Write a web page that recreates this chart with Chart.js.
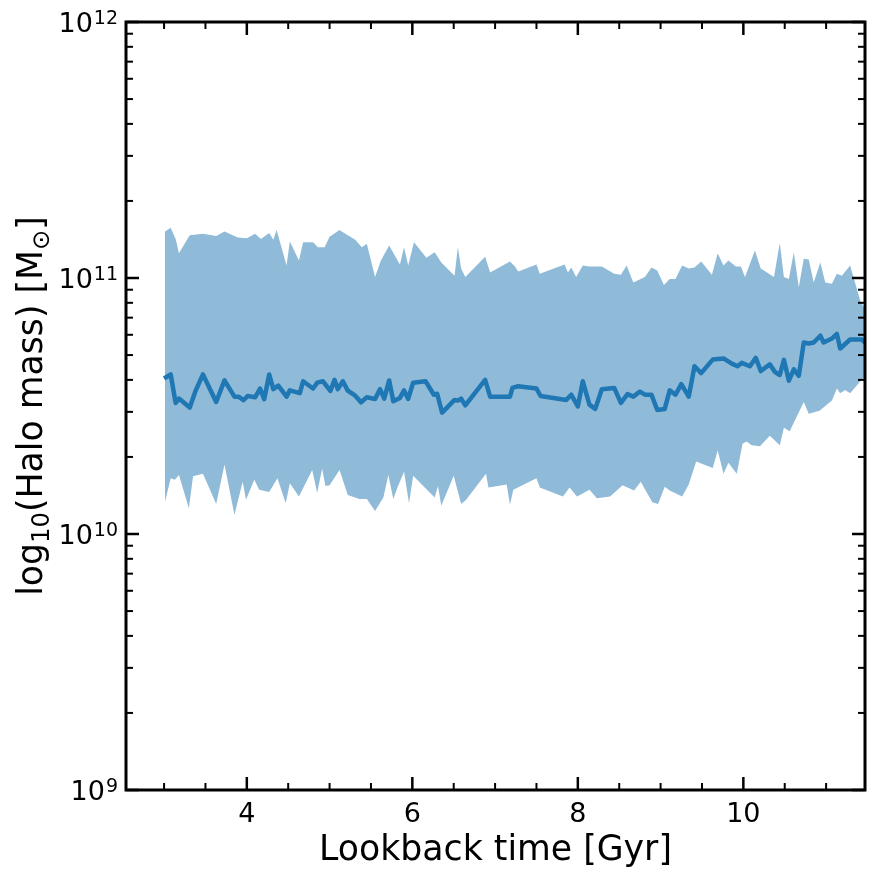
<!DOCTYPE html>
<html><head><meta charset="utf-8">
<script src="https://cdn.jsdelivr.net/npm/chart.js@4.4.1/dist/chart.umd.min.js"></script>
<style>html,body{margin:0;padding:0;background:#fff;}canvas{display:block;}</style>
</head><body>
<canvas id="c" width="876" height="879"></canvas>
<script>
// Median halo mass (units of 1e10 Msun) vs lookback time [Gyr]
const medianTime = [3.00,3.08,3.14,3.18,3.31,3.38,3.47,3.63,3.73,3.85,3.90,3.96,4.01,4.10,4.16,4.21,4.27,4.32,4.38,4.48,4.52,4.64,4.68,4.80,4.85,4.92,5.01,5.06,5.10,5.16,5.22,5.31,5.38,5.45,5.55,5.61,5.66,5.72,5.77,5.85,5.90,5.95,6.01,6.16,6.26,6.30,6.36,6.51,6.55,6.59,6.64,6.88,6.94,7.18,7.21,7.28,7.50,7.55,7.86,7.92,8.00,8.06,8.14,8.21,8.29,8.44,8.52,8.60,8.67,8.75,8.81,8.89,8.96,9.05,9.11,9.18,9.25,9.34,9.41,9.49,9.63,9.76,9.86,9.93,9.98,10.08,10.15,10.21,10.32,10.38,10.44,10.49,10.55,10.61,10.67,10.73,10.79,10.85,10.93,10.97,11.07,11.13,11.17,11.29,11.43,11.47];
const medianMass = [4.05,4.20,3.25,3.38,3.12,3.62,4.20,3.28,3.98,3.44,3.44,3.33,3.46,3.42,3.70,3.36,4.20,3.68,3.80,3.44,3.64,3.55,3.95,3.70,3.90,3.95,3.62,4.00,3.68,3.95,3.63,3.47,3.27,3.42,3.37,3.68,3.38,3.98,3.30,3.40,3.64,3.37,3.90,3.95,3.50,3.53,2.98,3.34,3.32,3.38,3.18,4.00,3.44,3.44,3.72,3.78,3.70,3.46,3.34,3.50,3.15,3.95,3.20,3.08,3.68,3.72,3.25,3.52,3.44,3.60,3.50,3.50,3.05,3.08,3.64,3.50,3.85,3.44,4.52,4.25,4.80,4.85,4.63,4.52,4.66,4.52,4.88,4.33,4.60,4.30,4.18,4.79,3.97,4.40,4.15,5.60,5.55,5.60,5.95,5.60,5.80,6.05,5.30,5.75,5.75,5.60];

// Upper envelope (units of 1e10 Msun)
const upperTime = [3.01,3.08,3.14,3.18,3.31,3.47,3.63,3.73,3.89,4.00,4.10,4.17,4.27,4.32,4.36,4.48,4.52,4.63,4.68,4.80,4.86,4.94,5.00,5.12,5.19,5.31,5.39,5.45,5.55,5.62,5.72,5.85,5.90,5.95,6.02,6.17,6.27,6.35,6.51,6.55,6.59,6.64,6.88,6.94,7.18,7.24,7.28,7.50,7.54,7.84,7.88,7.92,7.98,8.06,8.14,8.29,8.44,8.52,8.59,8.67,8.81,8.89,8.96,9.04,9.11,9.18,9.26,9.34,9.41,9.49,9.62,9.69,9.76,9.82,9.91,9.97,10.02,10.14,10.21,10.37,10.44,10.49,10.55,10.61,10.67,10.73,10.79,10.85,10.93,10.99,11.07,11.13,11.19,11.29,11.41,11.47];
const upperMass = [15.2,15.7,14.2,12.5,14.7,14.9,14.6,15.2,14.4,14.3,14.9,14.2,15.0,14.1,15.4,11.2,13.9,11.7,13.8,13.8,13.2,13.2,14.5,15.4,14.9,14.1,13.2,13.6,10.1,11.7,13.4,11.3,13.2,11.2,13.8,12.0,12.6,11.5,10.2,13.2,10.9,10.1,12.1,10.5,11.6,11.1,10.6,11.3,10.4,11.3,10.5,11.0,10.1,11.2,11.1,11.1,10.4,10.3,11.2,9.6,10.1,11.0,10.7,9.4,9.9,9.9,11.2,10.9,11.0,11.6,10.3,12.5,11.2,11.7,11.1,11.1,10.1,12.8,10.9,10.1,13.7,10.1,9.9,12.6,9.2,11.9,11.8,9.6,11.5,9.6,9.5,10.4,10.2,11.2,8.2,7.5];

// Lower envelope (units of 1e10 Msun)
const lowerTime = [3.01,3.08,3.13,3.18,3.30,3.35,3.47,3.63,3.73,3.85,3.95,3.99,4.09,4.15,4.27,4.37,4.47,4.52,4.63,4.79,4.85,4.91,4.95,5.00,5.12,5.22,5.36,5.45,5.55,5.65,5.71,5.77,5.82,5.90,5.96,6.01,6.27,6.31,6.35,6.50,6.59,6.65,6.89,6.92,7.14,7.18,7.22,7.50,7.54,7.82,7.90,7.99,8.14,8.23,8.39,8.54,8.68,8.76,8.90,8.97,9.05,9.11,9.26,9.34,9.43,9.63,9.69,9.76,9.82,9.92,9.99,10.04,10.10,10.20,10.32,10.44,10.49,10.56,10.73,10.79,10.92,11.07,11.13,11.17,11.23,11.29,11.43,11.47];
const lowerMass = [1.33,1.65,1.63,1.70,1.26,1.68,1.72,1.31,1.87,1.19,1.60,1.36,1.63,1.49,1.46,1.65,1.32,1.58,1.40,1.78,1.45,1.80,1.54,1.55,1.78,1.42,1.37,1.37,1.23,1.39,1.70,1.37,1.52,1.75,1.32,1.69,1.39,1.54,1.29,1.69,1.31,1.36,1.72,1.52,1.56,1.30,1.49,1.65,1.52,1.40,1.52,1.40,1.49,1.38,1.40,1.55,1.48,1.60,1.33,1.31,1.53,1.48,1.40,1.56,1.92,1.81,2.12,1.72,1.90,1.72,2.25,2.30,2.22,2.20,2.42,2.22,2.60,2.52,3.28,2.95,3.03,3.32,3.70,3.55,3.65,3.55,4.00,4.12];

const xTicks = [4, 6, 8, 10];
const xTickLabels = ['4', '6', '8', '10'];
const yTicks = [1e9, 1e10, 1e11, 1e12];
const yTickBase = '10';
const yTickExp = ['9', '10', '11', '12'];
const xTitle = 'Lookback time [Gyr]';
// y title pieces: [text, isSubscript]
const yTitleParts = [['log', false], ['10', true], ['(Halo mass) [M', false], ['\u2299', true], [']', false]];

const UNIT = 1e10;
const toPts = (t, m) => t.map((v, i) => ({x: v, y: m[i] * UNIT}));

const FONT = 'DejaVu Sans';
const TICK_SIZE = 27, EXP_SIZE = 19, TITLE_SIZE = 34.7;

const decor = {
  id: 'decor',
  afterDatasetsDraw(chart) {
    const {ctx, chartArea: a, scales: {x, y}} = chart;
    ctx.save();
    ctx.strokeStyle = '#000';
    ctx.lineCap = 'butt';
    const seg = (x1, y1, x2, y2, w) => { ctx.lineWidth = w; ctx.beginPath(); ctx.moveTo(x1, y1); ctx.lineTo(x2, y2); ctx.stroke(); };
    const MAJ = 13, MIN = 7, WMAJ = 2.5, WMIN = 2;
    for (let v = Math.ceil(x.min * 2) / 2; v <= x.max + 1e-9; v += 0.5) {
      if (xTicks.some(t => Math.abs(t - v) < 1e-6)) continue;
      const p = x.getPixelForValue(v);
      seg(p, a.bottom, p, a.bottom - MIN, WMIN);
      seg(p, a.top, p, a.top + MIN, WMIN);
    }
    xTicks.forEach(v => {
      const p = x.getPixelForValue(v);
      seg(p, a.bottom, p, a.bottom - MAJ, WMAJ);
      seg(p, a.top, p, a.top + MAJ, WMAJ);
    });
    for (let e = 9; e < 12; e++) {
      for (let k = 2; k <= 9; k++) {
        const p = y.getPixelForValue(k * Math.pow(10, e));
        seg(a.left, p, a.left + MIN, p, WMIN);
        seg(a.right, p, a.right - MIN, p, WMIN);
      }
    }
    yTicks.forEach(v => {
      const p = y.getPixelForValue(v);
      seg(a.left, p, a.left + MAJ, p, WMAJ);
      seg(a.right, p, a.right - MAJ, p, WMAJ);
    });
    ctx.lineWidth = 3;
    ctx.strokeRect(a.left, a.top, a.right - a.left, a.bottom - a.top);

    // y tick labels with superscript exponents
    ctx.fillStyle = '#000';
    ctx.textBaseline = 'alphabetic';
    ctx.textAlign = 'right';
    yTicks.forEach((v, i) => {
      const p = y.getPixelForValue(v);
      const xr = a.left - 8;
      ctx.font = EXP_SIZE + 'px "' + FONT + '"';
      const ew = ctx.measureText(yTickExp[i]).width;
      ctx.fillText(yTickExp[i], xr, p + 2);
      ctx.font = TICK_SIZE + 'px "' + FONT + '"';
      ctx.fillText(yTickBase, xr - ew - 1, p + 10);
    });

    // y axis title with subscripts
    const big = TITLE_SIZE + 'px "' + FONT + '"';
    const small = (TITLE_SIZE * 0.7) + 'px "' + FONT + '"';
    let total = 0;
    const widths = yTitleParts.map(([t, sub]) => { ctx.font = sub ? small : big; const w = ctx.measureText(t).width; total += w; return w; });
    ctx.translate(30, (a.top + a.bottom) / 2);
    ctx.rotate(-Math.PI / 2);
    ctx.textAlign = 'left';
    let cx = -total / 2;
    yTitleParts.forEach(([t, sub], i) => {
      ctx.font = sub ? small : big;
      ctx.fillText(t, cx, sub ? 12 + 7 : 12);
      cx += widths[i];
    });
    ctx.restore();
  }
};

new Chart(document.getElementById('c'), {
  type: 'line',
  data: {
    datasets: [
      {
        label: 'median',
        data: toPts(medianTime, medianMass),
        borderColor: '#1f77b4',
        borderWidth: 4.5,
        borderJoinStyle: 'round',
        pointRadius: 0,
        fill: false,
        tension: 0
      },
      {
        label: 'upper',
        data: toPts(upperTime, upperMass),
        borderColor: 'rgba(0,0,0,0)',
        borderWidth: 0,
        pointRadius: 0,
        backgroundColor: 'rgba(31,119,180,0.5)',
        fill: 2,
        tension: 0
      },
      {
        label: 'lower',
        data: toPts(lowerTime, lowerMass),
        borderColor: 'rgba(0,0,0,0)',
        borderWidth: 0,
        pointRadius: 0,
        fill: false,
        tension: 0
      }
    ]
  },
  options: {
    responsive: false,
    devicePixelRatio: 1,
    animation: false,
    layout: {padding: {left: 0, right: 11, top: 22, bottom: 0}},
    plugins: {legend: {display: false}, tooltip: {enabled: false}},
    scales: {
      x: {
        type: 'linear',
        min: 2.54,
        max: 11.47,
        afterBuildTicks: s => { s.ticks = xTicks.map(v => ({value: v})); },
        afterFit: s => { s.height = 89; },
        grid: {display: false, drawTicks: false},
        border: {display: false},
        ticks: {
          autoSkip: false, maxRotation: 0, padding: 9, color: '#000',
          font: {family: FONT, size: TICK_SIZE},
          callback: (v, i) => xTickLabels[i]
        },
        title: {display: true, text: xTitle, color: '#000', font: {family: FONT, size: TITLE_SIZE}, padding: {top: 0, bottom: 7}}
      },
      y: {
        type: 'logarithmic',
        min: 1e9,
        max: 1e12,
        afterBuildTicks: s => { s.ticks = yTicks.map(v => ({value: v, major: true})); },
        afterFit: s => { s.width = 126; },
        grid: {display: false, drawTicks: false},
        border: {display: false},
        ticks: {display: false},
        title: {display: false}
      }
    }
  },
  plugins: [decor]
});
</script>
</body></html>
